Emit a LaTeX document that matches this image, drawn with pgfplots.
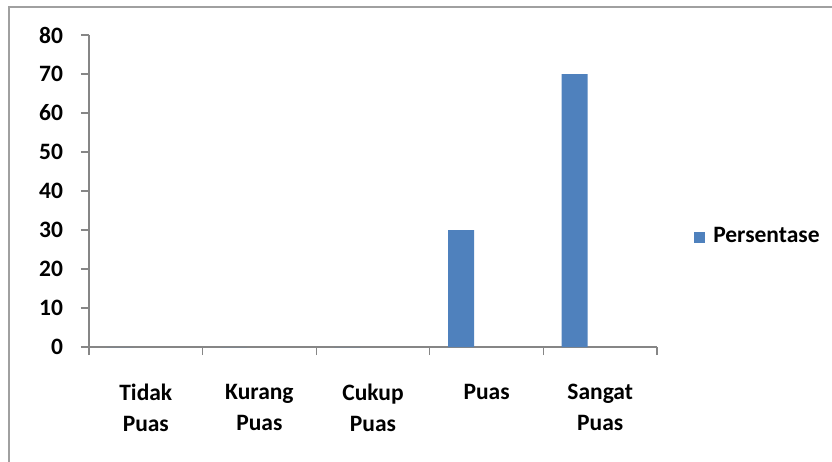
\documentclass[border=0pt]{standalone}
\usepackage{fontspec}
\setmainfont{Carlito}
\usepackage{pgfplots}
\pgfplotsset{compat=1.18}
\definecolor{barblue}{HTML}{4F81BD}
\definecolor{axgray}{HTML}{868686}
\definecolor{frgray}{HTML}{A0A0A0}
\begin{document}
\fontsize{23.5}{28}\selectfont\bfseries
\begin{tikzpicture}[x=1pt,y=1pt]
\path[use as bounding box] (-89,-114) rectangle (743,347);
\draw[frgray,line width=2pt] (-80,-120) -- (-80,340) -- (750,340);
\begin{axis}[
  at={(0,0)}, anchor=south west,
  scale only axis, width=568pt, height=312pt,
  xmin=-0.5, xmax=4.5, ymin=0, ymax=80,
  axis x line*=bottom, axis y line*=left,
  axis line style={axgray,line width=1.3pt},
  every tick/.style={axgray,line width=1.3pt},
  tick align=outside, major tick length=8pt,
  ytick={0,10,...,80},
  xtick={-0.5,0.5,...,4.5}, xticklabels={},
  extra x ticks={0,1,2,3,4},
  extra x tick labels={Tidak\\Puas,Kurang\\Puas,Cukup\\Puas,Puas,Sangat\\Puas},
  extra x tick style={major tick length=0pt, xticklabel style={align=center, anchor=north, yshift=-29pt, font=\fontsize{23.5}{31}\selectfont\bfseries}},
  /pgf/number format/assume math mode=true,
  yticklabel style={xshift=-10pt, font=\fontsize{23.5}{28}\selectfont\bfseries},
  legend style={at={(1.06,0.3526)}, anchor=west, draw=none, fill=none, font=\fontsize{23.5}{28}\selectfont\bfseries},
  legend image code/.code={\fill[barblue] (0pt,-6pt) rectangle (11pt,5pt); \path (17pt,0pt);},
  clip=false,
]
\addplot[ybar, bar width=26pt, bar shift=-25.6pt, fill=barblue, draw=none]
  coordinates {(0,0) (1,0) (2,0) (3,30) (4,70)};
\addlegendentry{Persentase}
\end{axis}
\end{tikzpicture}
\end{document}
